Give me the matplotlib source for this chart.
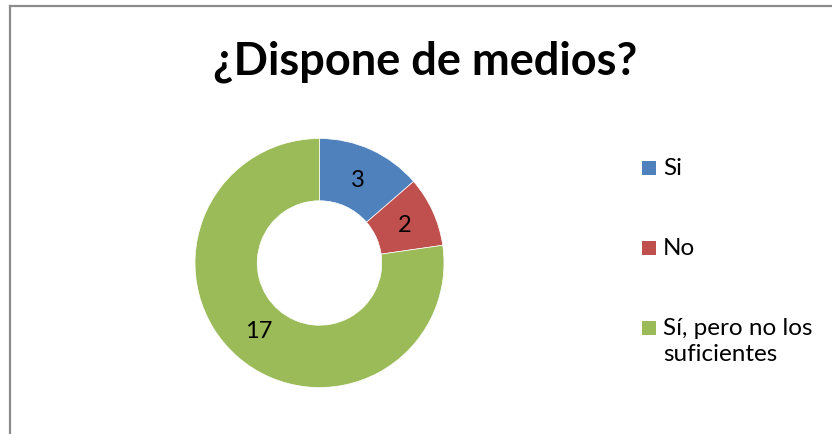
import matplotlib
matplotlib.use('Agg')
import matplotlib.pyplot as plt
from matplotlib.lines import Line2D
from matplotlib.patches import Rectangle
import numpy as np

# data
labels = ['Si', 'No', 'Sí, pero no los\nsuficientes']
values = [3, 2, 17]
colors = ['#4F81BD', '#C0504D', '#9BBB59']

plt.rcParams['font.family'] = ['Lato', 'DejaVu Sans']

W, H = 832, 434
fig = plt.figure(figsize=(W / 100, H / 100), dpi=100)
fig.patch.set_facecolor('white')

# frame lines (left and top only visible)
fig.add_artist(Line2D([9.5 / W, 9.5 / W], [0, 1 - 5.5 / H], color='#8c8c8c', lw=1.6))
fig.add_artist(Line2D([9.5 / W, 1], [1 - 5.5 / H, 1 - 5.5 / H], color='#8c8c8c', lw=1.6))

# donut
cx, cy, r = 319.5, 263, 124.5
ax = fig.add_axes([(cx - r) / W, 1 - (cy + r) / H, 2 * r / W, 2 * r / H])
wedges, _ = ax.pie(values, colors=colors, startangle=90, counterclock=False,
                   radius=1, wedgeprops=dict(width=0.5, edgecolor='white', linewidth=0.5))
ax.set_xlim(-1, 1)
ax.set_ylim(-1, 1)
ax.set_aspect('equal')

for v, w in zip(values, wedges):
    mid = np.deg2rad((w.theta1 + w.theta2) / 2)
    ax.text(0.75 * np.cos(mid), 0.73 * np.sin(mid), str(v), ha='center', va='center',
            fontsize=17, color='black')

fig.text(425 / W, 1 - 62 / H, '¿Dispone de medios?', ha='center', va='center',
         fontsize=32.5, fontweight='bold')

# legend drawn by hand so the marker sits on the first text line
legend_y = [168, 248, 328]
for lab, c, y in zip(labels, colors, legend_y):
    fig.add_artist(Rectangle((642 / W, 1 - (y + 7) / H), 14 / W, 14 / H,
                             facecolor=c, edgecolor='none', transform=fig.transFigure))
    fig.text(663 / W, 1 - (y - 10) / H, lab, ha='left', va='top', fontsize=17.5,
             linespacing=1.3)

fig.savefig('out.png', dpi=100)
